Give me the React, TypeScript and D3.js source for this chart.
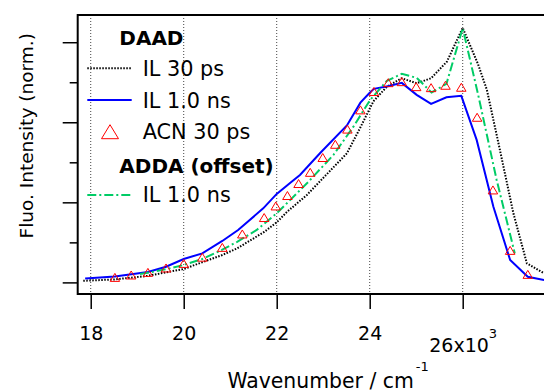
import React, { useRef, useEffect } from "react";
import * as d3 from "d3";

// wavenumber in 10^3 cm-1, intensity normalised
const acnX = [18.52, 18.87, 19.23, 19.62, 20.0, 20.4, 20.83, 21.26, 21.73, 21.98, 22.23, 22.47, 22.72, 22.99, 23.26, 23.52, 23.8, 24.09, 24.4, 24.69, 25.0, 25.32, 25.63, 25.97, 26.31, 26.65, 27.02, 27.4];
const acnY = [0.025, 0.037, 0.05, 0.072, 0.095, 0.126, 0.175, 0.242, 0.324, 0.382, 0.434, 0.494, 0.55, 0.624, 0.69, 0.766, 0.862, 0.954, 0.998, 1.003, 0.978, 0.973, 0.985, 0.975, 0.825, 0.462, 0.16, 0.04];

const il1nsX = [17.88, 18.52, 19.23, 19.62, 20.0, 20.4, 20.83, 21.17, 21.71, 22.0, 22.32, 22.5, 22.93, 23.51, 23.8, 23.99, 24.09, 24.39, 24.69, 25.01, 25.32, 25.65, 25.97, 26.3, 26.66, 27.02, 27.4, 27.75];
const il1nsY = [0.02, 0.029, 0.052, 0.078, 0.117, 0.145, 0.207, 0.262, 0.37, 0.442, 0.503, 0.537, 0.645, 0.784, 0.898, 0.945, 0.967, 0.98, 0.997, 0.937, 0.892, 0.925, 0.932, 0.712, 0.378, 0.112, 0.028, 0.012];

const il30psX = [17.84, 18.52, 19.21, 20.0, 20.83, 21.15, 21.73, 22.0, 22.22, 22.65, 22.93, 23.51, 23.79, 24.08, 24.37, 24.69, 25.01, 25.32, 25.66, 26.0, 26.33, 26.52, 26.8, 27.09, 27.38, 27.75];
const il30psY = [0.008, 0.015, 0.032, 0.067, 0.137, 0.17, 0.252, 0.3, 0.352, 0.437, 0.505, 0.645, 0.77, 0.905, 0.978, 1.02, 0.995, 1.02, 1.103, 1.272, 1.09, 0.962, 0.662, 0.345, 0.095, 0.045];

const addaX = [19.06, 19.23, 19.62, 20.0, 20.4, 20.82, 21.15, 21.57, 22.0, 22.65, 23.22, 23.65, 24.01, 24.37, 24.69, 25.01, 25.33, 25.65, 26.0, 26.33, 26.73, 27.12];
const addaY = [0.042, 0.048, 0.066, 0.087, 0.117, 0.162, 0.203, 0.262, 0.345, 0.495, 0.637, 0.778, 0.912, 1.007, 1.042, 1.022, 0.949, 0.992, 1.27, 0.94, 0.512, 0.145];

const xTicks = [18, 20, 22, 24, 26];
const yMajor = [0, 0.4, 0.8, 1.2];
const yMinor = [0.2, 0.6, 1.0];

const FONT = "DejaVu Sans, Verdana, sans-serif";

function zip(xs: number[], ys: number[]): [number, number][] {
    return xs.map((v, i) => [v, ys[i]]);
}

// open triangle centred on 0,0
function tri(w: number, h: number) {
    return "M0," + (-h / 2) + "L" + (w / 2) + "," + (h / 2) + "L" + (-w / 2) + "," + (h / 2) + "Z";
}

const App = () => {
    const svgRef = useRef<SVGSVGElement>(null);
    const width = 544;
    const height = 392;

    useEffect(() => {
        const svg = d3.select(svgRef.current);
        svg.selectAll("*").remove();

        const x = d3.scaleLinear().domain([17.72, 28.2]).range([77.7, 565]);
        const y = d3.scaleLinear().domain([-0.058, 1.336]).range([294, 15]);

        svg.append("defs").append("clipPath").attr("id", "plotclip")
            .append("rect").attr("x", 77.7).attr("y", 15).attr("width", 565 - 77.7).attr("height", 294 - 15);

        // vertical grid
        svg.selectAll(".grid").data(xTicks).enter().append("line")
            .attr("class", "grid")
            .attr("x1", d => x(d)).attr("x2", d => x(d))
            .attr("y1", 15).attr("y2", 294)
            .attr("stroke", "#444").attr("stroke-width", 1).attr("stroke-dasharray", "1,2");

        const plot = svg.append("g").attr("clip-path", "url(#plotclip)");
        const myLine = d3.line<[number, number]>().x(d => x(d[0])).y(d => y(d[1]));

        plot.append("path").attr("d", myLine(zip(il30psX, il30psY)))
            .attr("fill", "none").attr("stroke", "#000").attr("stroke-width", 2).attr("stroke-dasharray", "1.5,1.5");
        plot.append("path").attr("d", myLine(zip(il1nsX, il1nsY)))
            .attr("fill", "none").attr("stroke", "#0000ff").attr("stroke-width", 2);
        plot.append("path").attr("d", myLine(zip(addaX, addaY)))
            .attr("fill", "none").attr("stroke", "#00cc66").attr("stroke-width", 2).attr("stroke-dasharray", "9,3,2,3");

        plot.selectAll(".acn").data(zip(acnX, acnY)).enter().append("path")
            .attr("class", "acn")
            .attr("transform", d => "translate(" + x(d[0]) + "," + y(d[1]) + ")")
            .attr("d", tri(9.5, 8))
            .attr("fill", "none").attr("stroke", "#ff0000").attr("stroke-width", 1);

        // frame
        svg.append("rect").attr("x", 77.7).attr("y", 15).attr("width", 565 - 77.7).attr("height", 294 - 15)
            .attr("fill", "none").attr("stroke", "#000").attr("stroke-width", 2);

        // x axis
        const xAxis = d3.axisBottom(x).tickValues(xTicks).tickSize(15).tickSizeOuter(0).tickPadding(18).tickFormat(d3.format("d"));
        const gx = svg.append("g").attr("transform", "translate(0,294)").call(xAxis);
        gx.select(".domain").remove();
        gx.selectAll("line").attr("stroke", "#000").attr("stroke-width", 1.5);
        gx.selectAll("text").attr("font-family", FONT).attr("font-size", 19).attr("fill", "#000");
        const last = gx.selectAll("text").filter(d => d === 26);
        last.text("").attr("y", 44.5);
        last.append("tspan").text("26x10");
        last.append("tspan").text("3").attr("font-size", 13).attr("dy", "-1.05em");

        // y axis, no labels
        const gyMaj = svg.append("g").attr("transform", "translate(77.7,0)")
            .call(d3.axisLeft(y).tickValues(yMajor).tickSize(15).tickSizeOuter(0).tickFormat(() => ""));
        gyMaj.select(".domain").remove();
        gyMaj.selectAll("line").attr("stroke", "#000").attr("stroke-width", 1.5);
        const gyMin = svg.append("g").attr("transform", "translate(77.7,0)")
            .call(d3.axisLeft(y).tickValues(yMinor).tickSize(8).tickSizeOuter(0).tickFormat(() => ""));
        gyMin.select(".domain").remove();
        gyMin.selectAll("line").attr("stroke", "#000").attr("stroke-width", 1.5);

        // axis titles
        svg.append("text").attr("transform", "translate(33,135.8) rotate(-90)")
            .attr("text-anchor", "middle").attr("font-family", FONT).attr("font-size", 18.5)
            .text("Fluo. Intensity (norm.)");
        const xt = svg.append("text").attr("x", 227.4).attr("y", 388)
            .attr("font-family", FONT).attr("font-size", 20.4);
        xt.append("tspan").text("Wavenumber / cm");
        xt.append("tspan").text("-1").attr("font-size", 13).attr("dy", -17).attr("dx", 2);

        // legend
        const lg = svg.append("g").attr("font-family", FONT);
        lg.append("text").attr("x", 119.3).attr("y", 45).attr("font-size", 20).attr("font-weight", "bold").text("DAAD");
        lg.append("line").attr("x1", 87.3).attr("x2", 131.7).attr("y1", 68.3).attr("y2", 68.3)
            .attr("stroke", "#000").attr("stroke-width", 2).attr("stroke-dasharray", "1.5,1.5");
        lg.append("text").attr("x", 142.7).attr("y", 76).attr("font-size", 20.8).text("IL 30 ps");
        lg.append("line").attr("x1", 87.3).attr("x2", 131.7).attr("y1", 100).attr("y2", 100)
            .attr("stroke", "#0000ff").attr("stroke-width", 2);
        lg.append("text").attr("x", 142.7).attr("y", 108.3).attr("font-size", 20.8).text("IL 1.0 ns");
        lg.append("path").attr("transform", "translate(110,131.7)").attr("d", tri(17, 14))
            .attr("fill", "none").attr("stroke", "#ff0000").attr("stroke-width", 1);
        lg.append("text").attr("x", 142.7).attr("y", 139.3).attr("font-size", 20.8).text("ACN 30 ps");
        lg.append("text").attr("x", 119.3).attr("y", 173.3).attr("font-size", 20).attr("font-weight", "bold").text("ADDA (offset)");
        lg.append("line").attr("x1", 87.3).attr("x2", 131.7).attr("y1", 195).attr("y2", 195)
            .attr("stroke", "#00cc66").attr("stroke-width", 2).attr("stroke-dasharray", "9,3,2,3");
        lg.append("text").attr("x", 142.7).attr("y", 201.7).attr("font-size", 20.8).text("IL 1.0 ns");
    }, []);

    return (
        <div style={{ position: "absolute", left: 0, top: 0 }}>
            <svg ref={svgRef} width={width} height={height} style={{ display: "block", background: "#fff" }}></svg>
        </div>
    );
};

export default App;
